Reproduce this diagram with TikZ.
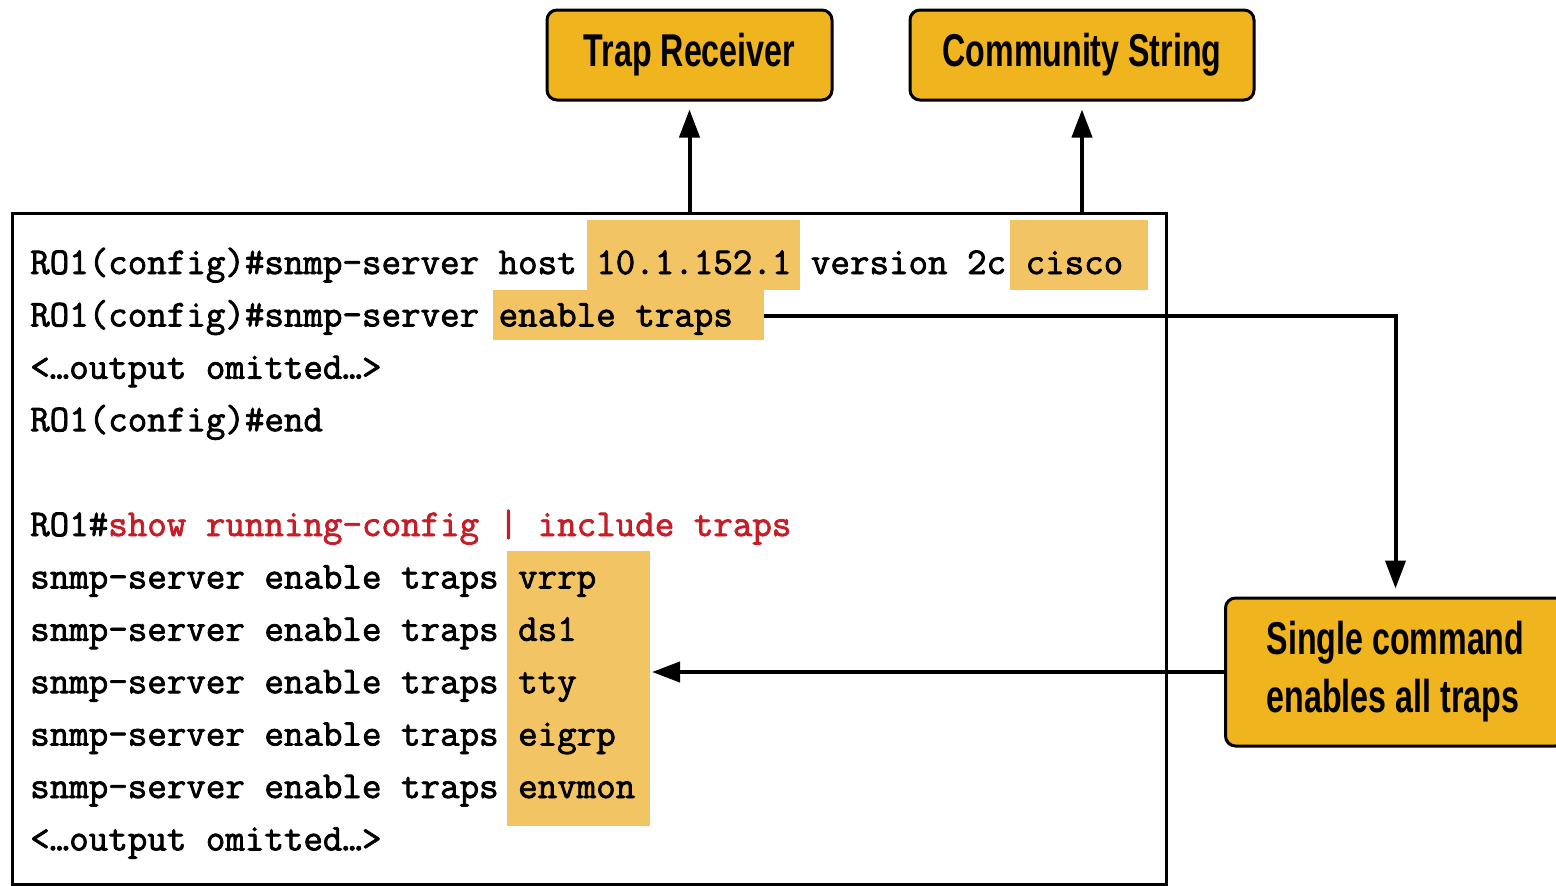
\documentclass[tikz,border=0pt]{standalone}
\usepackage{fontspec}
\setmainfont{Liberation Sans}
\newfontfamily\codefont[FakeBold=2]{Latin Modern Mono}
\newfontfamily\labelfont[FakeStretch=0.70]{Liberation Sans}
\usetikzlibrary{arrows.meta}
\definecolor{boxfill}{RGB}{240,180,30}
\definecolor{hlfill}{RGB}{242,196,100}
\definecolor{cmdred}{RGB}{196,30,40}
\tikzset{
  labelbox/.style={draw=black, line width=3pt, fill=boxfill, rounded corners=10pt,
    font=\labelfont\bfseries\fontsize{46}{58}\selectfont, align=left, inner sep=0pt},
  codebox/.style={draw=black, line width=3pt, inner sep=0pt},
  hl/.style={fill=hlfill},
  codeline/.style={anchor=base west, inner sep=0pt, font=\codefont\fontsize{37.9}{52}\selectfont},
  conn/.style={line width=4pt, -{Triangle[length=28pt,width=20pt]}}
}
\begin{document}
\begin{tikzpicture}[x=1pt,y=-1pt]
\useasboundingbox (0,0) rectangle (1556,886);
% highlights
\fill[hl] (587,220) rectangle (800,290);
\fill[hl] (1010,220) rectangle (1148,290);
\fill[hl] (493,290) rectangle (764,340);
\fill[hl] (507,551) rectangle (650,826);
% code box
\node[codebox, minimum width=1154pt, minimum height=671pt] (code) at (589,548.5) {};
% code lines
\node[codeline] (l1) at (30,274) {RO1(config)\#snmp-server host 10.1.152.1 version 2c cisco};
\node[codeline] (l2) at (30,326.4) {RO1(config)\#snmp-server enable traps};
\node[codeline] (l3) at (30,378.8) {<…output omitted…>};
\node[codeline] (l4) at (30,431.2) {RO1(config)\#end};
\node[codeline] (l6) at (30,536) {RO1\#\textcolor{cmdred}{show running-config | include traps}};
\node[codeline] (l7) at (30,588.4) {snmp-server enable traps vrrp};
\node[codeline] (l8) at (30,640.8) {snmp-server enable traps ds1};
\node[codeline] (l9) at (30,693.2) {snmp-server enable traps tty};
\node[codeline] (l10) at (30,745.6) {snmp-server enable traps eigrp};
\node[codeline] (l11) at (30,798) {snmp-server enable traps envmon};
\node[codeline] (l12) at (30,850.4) {<…output omitted…>};
% label boxes
\node[labelbox, minimum width=285pt, minimum height=90pt, align=center] (trap) at (689.5,55) {Trap Receiver};
\node[labelbox, minimum width=344pt, minimum height=90pt, align=center] (comm) at (1082,55) {Community String};
\node[labelbox, anchor=west, minimum width=340pt, minimum height=148pt] (single) at (1224,672) {Single command\\enables all traps};
% connectors
\coordinate (etEnd) at (764,316);
\coordinate (ttyEnd) at (652,672);
\draw[conn, shorten >=8pt] (code.north -| trap.south) -- (trap.south);
\draw[conn, shorten >=8pt] (code.north -| comm.south) -- (comm.south);
\draw[conn, shorten >=8pt] (etEnd) -| (single.north);
\draw[conn] (single.west) -- (ttyEnd);
\end{tikzpicture}
\end{document}
